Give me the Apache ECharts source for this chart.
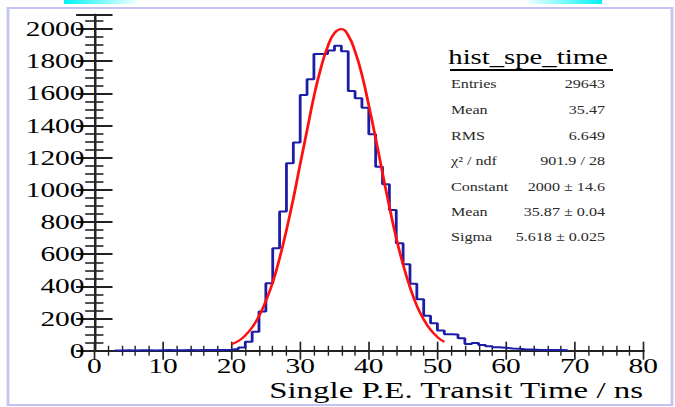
<!DOCTYPE html>
<html>
<head>
<meta charset="utf-8">
<script src="https://cdn.jsdelivr.net/npm/echarts@6/dist/echarts.min.js"></script>
<style>
  html, body { margin: 0; padding: 0; background: #fff; overflow: hidden; }
  /* the original ROOT canvas was stretched sideways, so draw narrow and stretch it */
  #main { width: 482px; height: 407px; transform: scaleX(1.40041); transform-origin: 0 0; }
</style>
</head>
<body>
<div id="main"></div>
<script>
// histogram: 1 ns bins, first bin starts at binStart
var binStart = 3
var counts = [2, 3, 2, 3, 3, 2, 3, 4, 3, 3, 4, 3, 4, 4, 5, 5, 6,
  10, 20, 56, 118, 243, 419, 637, 865, 1165, 1294, 1590, 1688, 1845, 1845, 1866, 1897,
  1862, 1615, 1570, 1511, 1346, 1144, 1035, 875, 668, 537, 417, 320, 217, 170, 125,
  102, 100, 77, 42, 48, 35, 28, 22, 18, 14, 12, 8, 7, 5, 5, 4, 4, 3]

// gaussian fit curve
var fitTimes = [20, 21, 22, 23, 24, 25, 26, 27, 28, 29, 30, 31, 32, 33, 34, 35,
  36, 37, 38, 39, 40, 41, 42, 43, 44, 45, 46, 47, 48, 49, 50, 51]
var fitValues = [40, 60, 95, 145, 215, 310, 425, 575, 750, 945, 1160, 1370, 1580, 1755, 1890, 1975,
  2000, 1960, 1860, 1715, 1525, 1320, 1105, 895, 700, 535, 395, 280, 195, 130, 85, 55]

var statsTitle = 'hist_spe_time'
var statsLabels = ['Entries', 'Mean', 'RMS', 'χ² / ndf', 'Constant', 'Mean', 'Sigma']
var statsValues = ['29643', '35.47', '6.649', '901.9 / 28', '2000 ± 14.6', '35.87 ± 0.04', '5.618 ± 0.025']

var xTitle = 'Single P.E. Transit Time / ns'

var histData = []
for (var i = 0; i < counts.length; i++) {
  histData.push([binStart + i, counts[i]])
}
histData.push([binStart + counts.length, counts[counts.length - 1]])

var fitData = []
for (var j = 0; j < fitTimes.length; j++) {
  fitData.push([fitTimes[j], fitValues[j]])
}

var SX = 1.40041
var serif = '"Liberation Serif", "Times New Roman", serif'
var plain = function (v) { return String(v) }

var graphics = [
  // slide frame and the two cyan bars at the top
  { type: 'rect', shape: { x: 8 / SX, y: 8, width: 664 / SX, height: 397 },
    style: { fill: 'none', stroke: '#c4c4f2', lineWidth: 2 } },
  { type: 'rect', shape: { x: 64 / SX, y: 0, width: 73 / SX, height: 4 },
    style: { fill: new echarts.graphic.LinearGradient(0, 0, 1, 0, [
      { offset: 0, color: '#00f4f4' }, { offset: 1, color: '#f0ffff' }]) } },
  { type: 'rect', shape: { x: 527 / SX, y: 0, width: 75 / SX, height: 4 },
    style: { fill: new echarts.graphic.LinearGradient(0, 0, 1, 0, [
      { offset: 0, color: '#f0ffff' }, { offset: 1, color: '#00f4f4' }]) } },
  // x axis title
  { type: 'text', x: 643 / SX, y: 390,
    style: { text: xTitle, font: '23.5px ' + serif, lineHeight: 24, fill: '#000', align: 'right', verticalAlign: 'middle' } },
  // stats box
  { type: 'text', x: 528 / SX, y: 57,
    style: { text: statsTitle, font: '20.5px ' + serif, fill: '#000', align: 'center', verticalAlign: 'middle' } },
  { type: 'line', shape: { x1: 450 / SX, y1: 70, x2: 613 / SX, y2: 70 },
    style: { stroke: '#000', lineWidth: 2 } }
]
var rowY = [84, 110, 136, 161, 187, 212, 237]
for (var k = 0; k < statsLabels.length; k++) {
  graphics.push({ type: 'text', x: 451 / SX, y: rowY[k],
    style: { text: statsLabels[k], font: '11.5px ' + serif, fill: '#2a2a2a', align: 'left', verticalAlign: 'middle' } })
  graphics.push({ type: 'text', x: 605 / SX, y: rowY[k],
    style: { text: statsValues[k], font: '11.5px ' + serif, fill: '#2a2a2a', align: 'right', verticalAlign: 'middle' } })
}

var myChart = echarts.init(document.getElementById('main'), null, { renderer: 'svg' })
myChart.setOption({
  animation: false,
  grid: { left: 94.3 / SX, right: 482 - 643.3 / SX, top: 14.6, bottom: 56.3, containLabel: false, outerBoundsMode: 'none' },
  xAxis: [{
    type: 'value', min: 0, max: 80, interval: 10, position: 'bottom',
    axisLine: { lineStyle: { color: '#222', width: 2 } },
    axisTick: { inside: true, length: 9, lineStyle: { color: '#222', width: 1.2 } },
    minorTick: { show: true, splitNumber: 5, length: 5, lineStyle: { color: '#222', width: 1 } },
    axisLabel: { fontFamily: serif, fontSize: 21, lineHeight: 20, color: '#000', margin: 5, formatter: plain },
    splitLine: { show: false }
  }, {
    type: 'value', min: 0, max: 80, interval: 10, position: 'top',
    axisLine: { lineStyle: { color: '#222', width: 2 } },
    axisTick: { inside: true, length: 9, lineStyle: { color: '#222', width: 1.2 } },
    minorTick: { show: true, splitNumber: 5, length: 5, lineStyle: { color: '#222', width: 1 } },
    axisLabel: { show: false },
    splitLine: { show: false }
  }],
  yAxis: [{
    type: 'value', min: 0, max: 2090, interval: 200, position: 'left',
    axisLine: { show: true, lineStyle: { color: '#222', width: 1.5 } },
    axisTick: { show: true, inside: true, length: 13, lineStyle: { color: '#222', width: 2 } },
    minorTick: { show: true, splitNumber: 4, length: 6.5, lineStyle: { color: '#222', width: 1.6 } },
    axisLabel: { fontFamily: serif, fontSize: 21, color: '#000', margin: 7, showMaxLabel: false, formatter: plain },
    splitLine: { show: false }
  }, {
    type: 'value', min: 0, max: 2090, interval: 200, position: 'right',
    axisLine: { show: true, lineStyle: { color: '#222', width: 1.5 } },
    axisTick: { show: true, inside: true, length: 13, lineStyle: { color: '#222', width: 2 } },
    minorTick: { show: true, splitNumber: 4, length: 6.5, lineStyle: { color: '#222', width: 1.6 } },
    axisLabel: { show: false },
    splitLine: { show: false }
  }],
  series: [{
    name: 'hist_spe_time',
    type: 'line',
    step: 'end',
    data: histData,
    showSymbol: false,
    lineStyle: { color: '#1c1ca6', width: 2 },
    z: 3
  }, {
    name: 'fit',
    type: 'line',
    smooth: true,
    data: fitData,
    showSymbol: false,
    lineStyle: { color: '#ff1010', width: 2 },
    z: 4
  }],
  graphic: graphics
})
</script>
</body>
</html>
